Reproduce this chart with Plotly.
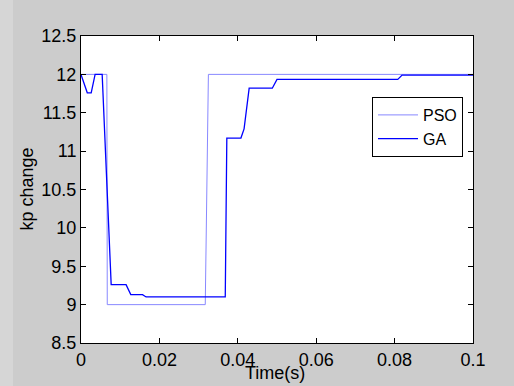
import plotly.graph_objects as go

t_pso = [0, 0.0066, 0.0067, 0.0317, 0.0325, 0.1]
kp_pso = [12, 12, 9.0, 9.0, 12, 12]

t_ga = [0, 0.0016, 0.0026, 0.0036, 0.0054, 0.0077, 0.0115, 0.0127, 0.0157, 0.0166,
        0.0368, 0.0372, 0.0408, 0.0416, 0.0429, 0.0488, 0.0500, 0.0808, 0.0819, 0.1]
kp_ga = [12, 11.76, 11.76, 12, 12, 9.26, 9.26, 9.13, 9.13, 9.10,
         9.10, 11.17, 11.17, 11.29, 11.82, 11.82, 11.935, 11.935, 11.99, 11.99]

x_ticks = [0, 0.02, 0.04, 0.06, 0.08, 0.1]
x_labels = ["0", "0.02", "0.04", "0.06", "0.08", "0.1"]
y_ticks = [8.5, 9, 9.5, 10, 10.5, 11, 11.5, 12, 12.5]
y_labels = ["8.5", "9", "9.5", "10", "10.5", "11", "11.5", "12", "12.5"]

FONT = "Liberation Sans, Arial, sans-serif"
FS = 18

L, R, T, B = 81, 41, 36, 43
PW, PH = 514 - L - R, 386 - T - B

fig = go.Figure()
fig.add_trace(go.Scatter(x=t_pso, y=kp_pso, mode="lines", name="PSO",
                         line=dict(color="#8888ff", width=1)))
fig.add_trace(go.Scatter(x=t_ga, y=kp_ga, mode="lines", name="GA",
                         line=dict(color="#0000ff", width=1.3)))

fig.update_layout(
    width=514, height=386,
    margin=dict(l=L, r=R, t=T, b=B),
    paper_bgcolor="#cccccc", plot_bgcolor="white",
    font=dict(family=FONT, size=FS, color="black"),
    showlegend=True,
    legend=dict(x=(372 - L) / PW, y=1 - (97 - T) / PH, xanchor="left", yanchor="top",
                bgcolor="white", bordercolor="black", borderwidth=1,
                font=dict(size=16), tracegroupgap=0, itemwidth=40),
    xaxis=dict(range=[0, 0.1], tickvals=x_ticks, ticktext=x_labels,
               ticks="inside", ticklen=5, tickcolor="black",
               showline=True, linecolor="black", linewidth=1, mirror="ticks",
               showgrid=False, zeroline=False, automargin=False),
    yaxis=dict(range=[8.5, 12.5], tickvals=y_ticks, ticktext=y_labels,
               ticks="inside", ticklen=5, tickcolor="black",
               showline=True, linecolor="black", linewidth=1, mirror="ticks",
               showgrid=False, zeroline=False, automargin=False),
    annotations=[
        dict(text="Time(s)", xref="paper", yref="paper",
             x=(275 - L) / PW, y=-(373 - T - PH) / PH,
             xanchor="center", yanchor="middle", showarrow=False,
             font=dict(size=FS)),
        dict(text="kp change", xref="paper", yref="paper",
             x=-(L - 26) / PW, y=0.5, textangle=-90,
             xanchor="center", yanchor="middle", showarrow=False,
             font=dict(size=FS)),
    ],
)
fig.add_shape(type="rect", xref="paper", yref="paper", x0=-L / PW, x1=-(L - 13) / PW,
              y0=-1, y1=2, line=dict(width=0), fillcolor="#d6d6d6", layer="below")

fig.write_html("out.html")
